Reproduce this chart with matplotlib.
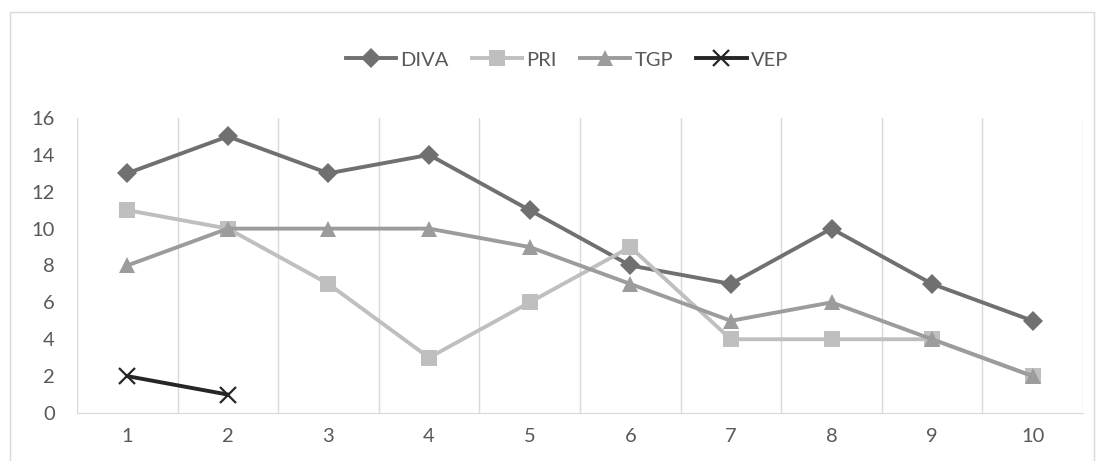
import matplotlib

matplotlib.use("Agg")
import matplotlib.pyplot as plt
import numpy as np
from matplotlib.patches import Rectangle

plt.rcParams["font.family"] = ["Lato", "DejaVu Sans"]

categories = [1, 2, 3, 4, 5, 6, 7, 8, 9, 10]
diva = [13, 15, 13, 14, 11, 8, 7, 10, 7, 5]
pri = [11, 10, 7, 3, 6, 9, 4, 4, 4, 2]
tgp = [8, 10, 10, 10, 9, 7, 5, 6, 4, 2]
vep = [2, 1, None, None, None, None, None, None, None, None]
y_ticks = [0, 2, 4, 6, 8, 10, 12, 14, 16]

series = [
    ("DIVA", diva, "#707070", "D", 10),
    ("PRI", pri, "#bfbfbf", "s", 11.5),
    ("TGP", tgp, "#9c9c9c", "^", 12),
    ("VEP", vep, "#262626", "x", 11),
]

fig = plt.figure(figsize=(11.04, 4.61), dpi=100)
ax = fig.add_axes([0.0697, 0.1041, 0.9113, 0.640])

# outer chart border
fig.patches.append(Rectangle((10 / 1104, -0.05), 1084 / 1104, 1 - 12 / 461 + 0.05,
                             transform=fig.transFigure, fill=False,
                             edgecolor="#d9d9d9", lw=1))

x = np.arange(1, len(categories) + 1)
for name, vals, color, marker, ms in series:
    y = np.array([np.nan if v is None else v for v in vals], dtype=float)
    mew = 1.6 if marker == "x" else 0
    ax.plot(x, y, color=color, lw=2.8, marker=marker, ms=ms, mec=color,
            mfc=color, mew=mew, label=name, zorder=3)

ax.set_xlim(0.5, len(categories) + 0.5)
ax.set_ylim(0, 16)
ax.set_yticks(y_ticks)
ax.set_xticks(x, [str(c) for c in categories])
for b in np.arange(0.5, len(categories) + 1, 1.0):
    ax.axvline(b, color="#d9d9d9", lw=1, zorder=1)

for side in ("top", "right", "left"):
    ax.spines[side].set_visible(False)
ax.spines["bottom"].set_color("#d9d9d9")
ax.tick_params(axis="both", length=0, labelsize=14.5, labelcolor="#595959")
ax.tick_params(axis="x", pad=11)
ax.tick_params(axis="y", pad=16)

ax.legend(loc="center", bbox_to_anchor=(567 / 1104, 1 - 60 / 461),
          bbox_transform=fig.transFigure, ncol=4, frameon=False,
          fontsize=14.5, labelcolor="#595959", handlelength=2.5,
          columnspacing=1.15, handletextpad=0.2)

fig.savefig("out.png", dpi=100)
